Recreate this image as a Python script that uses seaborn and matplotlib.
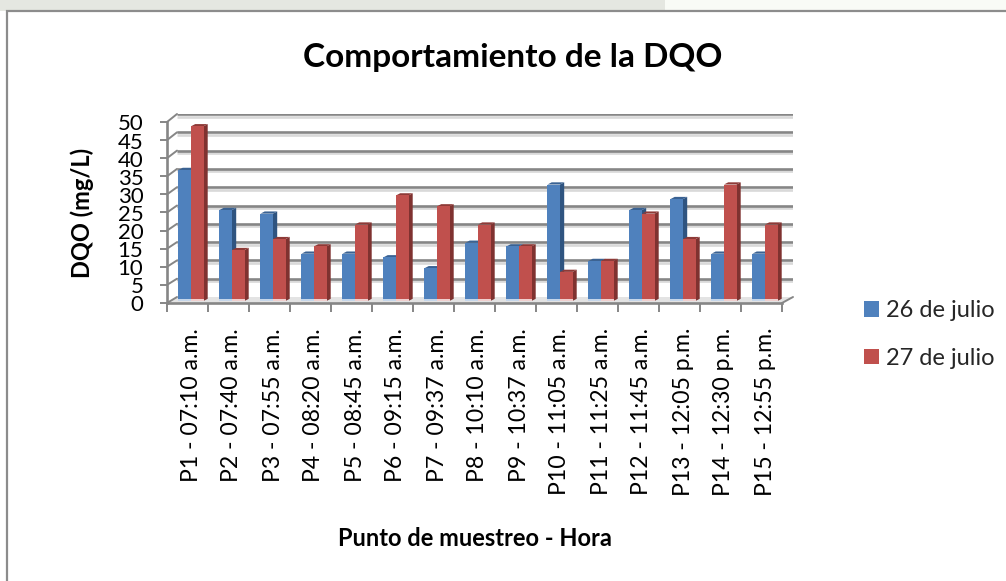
import matplotlib
matplotlib.use("Agg")
import matplotlib.pyplot as plt
from matplotlib.patches import Polygon, Rectangle, ConnectionPatch
from matplotlib.transforms import ScaledTranslation
import matplotlib.patheffects as pe
import pandas as pd
import seaborn as sns

categories = ["P1 - 07:10 a.m.", "P2 - 07:40 a.m.", "P3 - 07:55 a.m.", "P4 - 08:20 a.m.",
              "P5 - 08:45 a.m.", "P6 - 09:15 a.m.", "P7 - 09:37 a.m.", "P8 - 10:10 a.m.",
              "P9 - 10:37 a.m.", "P10 - 11:05 a.m.", "P11 - 11:25 a.m.", "P12 - 11:45 a.m.",
              "P13 - 12:05 p.m.", "P14 - 12:30 p.m.", "P15 - 12:55 p.m."]
julio_26 = [36, 25, 24, 13, 13, 12, 9, 16, 15, 32, 11, 25, 28, 13, 13]
julio_27 = [48, 14, 17, 15, 21, 29, 26, 21, 15, 8, 11, 24, 17, 32, 21]
series_names = ["26 de julio", "27 de julio"]
y_ticks = list(range(0, 55, 5))

W, H = 1006, 581
GRAY = "#868686"
palette = {"26 de julio": "#4F81BD", "27 de julio": "#C0504D"}
side_col = {"26 de julio": "#2F5480", "27 de julio": "#7F3230"}
top_col = {"26 de julio": "#3A6293", "27 de julio": "#8E3A37"}
base_col = {"26 de julio": "#C5D6EA", "27 de julio": "#F0CFCE"}

sns.set_theme(style="white")
plt.rcParams["font.family"] = ["Lato", "DejaVu Sans"]

fig = plt.figure(figsize=(W / 100, H / 100), dpi=100, facecolor="white")


def rect(x0, y0, x1, y1):
    return [x0 / W, 1 - y1 / H, (x1 - x0) / W, (y1 - y0) / H]


# Backdrop and chart frame
fig.add_artist(Rectangle((0, 1 - 11 / H), 665 / W, 11 / H, transform=fig.transFigure,
                         fc="#E5E7E1", ec="none", zorder=-3))
fig.add_artist(Rectangle((665 / W, 1 - 11 / H), 341 / W, 11 / H, transform=fig.transFigure,
                         fc="#F9FBF6", ec="none", zorder=-3))
fig.add_artist(Rectangle((6.5 / W, -0.05), 1.1, 1.05 - 11 / H, transform=fig.transFigure,
                         fc="white", ec="#8C8C8C", lw=1.6, zorder=-2))

# Back wall with gridlines
back = fig.add_axes(rect(177, 114, 793, 297), facecolor="none", zorder=1)
back.set_xlim(-0.5, 14.5)
back.set_ylim(0, 50)
back.axis("off")
shadow = [pe.SimpleLineShadow(offset=(0, -1.8), shadow_color="#D9D9D9", alpha=1), pe.Normal()]
for v in y_ticks[1:]:
    back.axhline(v, color=GRAY, lw=1.9, path_effects=shadow, solid_capstyle="butt")

# Front plane with axes, ticks and labels
front = fig.add_axes(rect(167, 122, 782, 303), facecolor="none", zorder=1.5)
front.set_xlim(-0.5, 14.5)
front.set_ylim(0, 50)
for s in ("top", "right"):
    front.spines[s].set_visible(False)
for s in ("left", "bottom"):
    front.spines[s].set_color(GRAY)
    front.spines[s].set_linewidth(1.9)
front.set_yticks(y_ticks)
front.tick_params(axis="y", length=5, width=1.4, color=GRAY, labelsize=16, pad=12,
                  labelcolor="black", left=True)
y_shift = ScaledTranslation(0, -2.5 / 100, fig.dpi_scale_trans)
for t in front.get_yticklabels():
    t.set_va("center")
    t.set_transform(t.get_transform() + y_shift)
front.set_xticks([i - 0.5 for i in range(len(categories) + 1)])
front.set_xticklabels([])
front.set_xticks(range(len(categories)), labels=categories, minor=True)
front.tick_params(axis="x", which="major", length=6.5, width=1.4, color=GRAY, bottom=True)
front.tick_params(axis="x", which="minor", length=0, labelsize=16.6, rotation=90, pad=18,
                  labelcolor="black")
x_shift = ScaledTranslation(3.5 / 100, 0, fig.dpi_scale_trans)
for t in front.get_xticklabels(minor=True):
    t.set_transform(t.get_transform() + x_shift)

# Floor and side wall connectors
to_fig = fig.transFigure.inverted().transform
floor = Polygon([to_fig(front.transData.transform((-0.5, 0))),
                 to_fig(front.transData.transform((14.5, 0))),
                 to_fig(back.transData.transform((14.5, 0))),
                 to_fig(back.transData.transform((-0.5, 0)))],
                transform=fig.transFigure, fc="#E3E3E3", ec="none", zorder=0)
fig.add_artist(floor)
for v in y_ticks:
    fig.add_artist(ConnectionPatch((-0.5, v), (-0.5, v), coordsA=front.transData,
                                   coordsB=back.transData, color=GRAY, lw=1.4))
fig.add_artist(ConnectionPatch((14.5, 0), (14.5, 0), coordsA=front.transData,
                               coordsB=back.transData, color=GRAY, lw=1.4))

# Bars
df = pd.DataFrame({
    "Punto": categories * 2,
    "Fecha": [series_names[0]] * len(categories) + [series_names[1]] * len(categories),
    "DQO": julio_26 + julio_27,
})
ax = fig.add_axes(rect(170.5, 119, 785.5, 301), facecolor="none", zorder=2)
sns.barplot(data=df, x="Punto", y="DQO", hue="Fecha", hue_order=series_names, palette=palette,
            width=0.61, gap=0, saturation=1, linewidth=0, ax=ax, legend=True)
ax.set_xlim(-0.5, 14.5)
ax.set_ylim(0, 50)
ax.axis("off")

px_x = 1 / 41.0
px_y = 50 / 182.0
dx, dy = 4.2 * px_x, 2.2 * px_y
for name, container, z in zip(series_names, ax.containers, (2.0, 2.1)):
    for bar in container:
        x0, x1 = bar.get_x(), bar.get_x() + bar.get_width()
        h = bar.get_height()
        bar.set_zorder(3)
        ax.add_patch(Polygon([(x1, 0), (x1 + dx, dy), (x1 + dx, h + dy), (x1, h)],
                             fc=side_col[name], ec="none", lw=0, zorder=z))
        ax.add_patch(Polygon([(x0, h), (x0 + dx, h + dy), (x1 + dx, h + dy), (x1, h)],
                             fc=top_col[name], ec="none", lw=0, zorder=z))
        ax.add_patch(Rectangle((x0, 0), x1 - x0, 1.6 * px_y, fc=base_col[name], ec="none", lw=0, zorder=3.1))

sns.move_legend(ax, "center left", bbox_to_anchor=(864 / W, 1 - 334.5 / H),
                bbox_transform=fig.transFigure, frameon=False, title=None, fontsize=17,
                handlelength=0.64, handleheight=0.64, handletextpad=0.28, labelspacing=1.12,
                borderpad=0, borderaxespad=0)

# Titles
fig.text(513 / W, 1 - 58 / H, "Comportamiento de la DQO", ha="center", va="center",
         fontsize=24, fontweight="bold", color="black")
fig.text(475 / W, 1 - 538 / H, "Punto de muestreo - Hora", ha="center", va="center",
         fontsize=17, fontweight="bold", color="black")
fig.text(82 / W, 1 - 213 / H, "DQO (mg/L)", ha="center", va="center", rotation=90,
         fontsize=17, fontweight="bold", color="black")

fig.savefig("out.png", dpi=100)
